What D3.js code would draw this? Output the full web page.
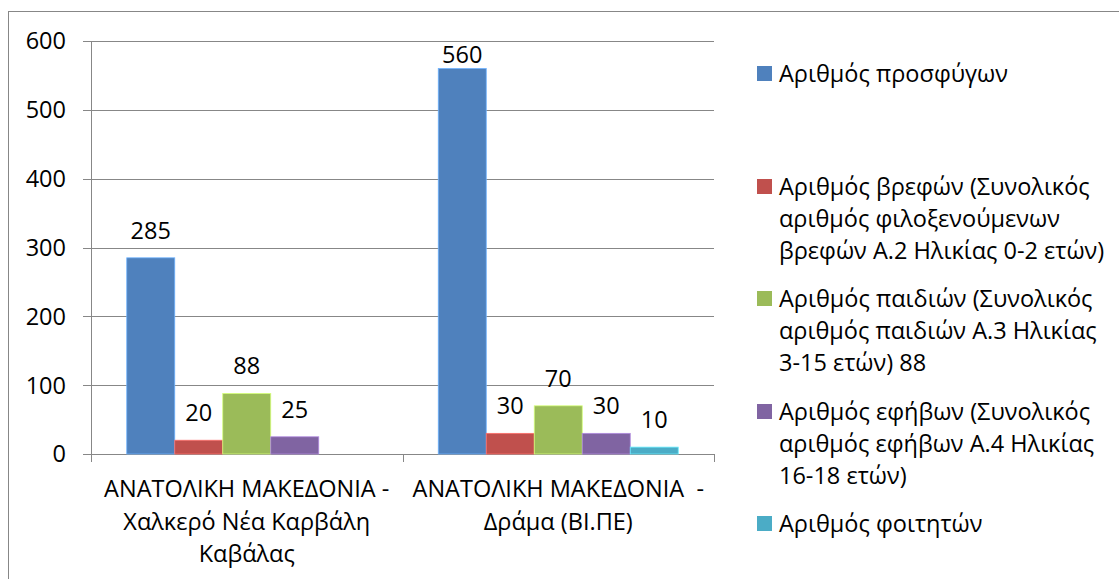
<!DOCTYPE html>
<html>
<head>
<meta charset="utf-8">
<script src="https://cdn.jsdelivr.net/npm/d3@7"></script>
<style>
  body { margin: 0; background: #fff; }
  svg text { font-family: "Open Sans", sans-serif; fill: #000; }
</style>
</head>
<body>
<div id="chart"></div>
<script>
// chart data
var categories = [
	["ΑΝΑΤΟΛΙΚΗ ΜΑΚΕΔΟΝΙΑ -", "Χαλκερό Νέα Καρβάλη", "Καβάλας"],
	["ΑΝΑΤΟΛΙΚΗ ΜΑΚΕΔΟΝΙΑ  -", "Δράμα (ΒΙ.ΠΕ)"]
];
var seriesNames = [
	["Αριθμός προσφύγων"],
	["Αριθμός βρεφών (Συνολικός", "αριθμός φιλοξενούμενων", "βρεφών Α.2 Ηλικίας 0-2 ετών)"],
	["Αριθμός παιδιών (Συνολικός", "αριθμός παιδιών Α.3 Ηλικίας", "3-15 ετών) 88"],
	["Αριθμός εφήβων (Συνολικός", "αριθμός εφήβων Α.4 Ηλικίας", "16-18 ετών)"],
	["Αριθμός φοιτητών"]
];
var seriesColors = ["#4F81BD", "#C0504D", "#9BBB59", "#8064A2", "#4BACC6"];
// values per category, one per series (null = no bar)
var valuesKavala = [285, 20, 88, 25, null];
var valuesDrama = [560, 30, 70, 30, 10];
var yTicks = [0, 100, 200, 300, 400, 500, 600];

var W = 1119, H = 579;
var plot = {left: 91, right: 714, top: 41, bottom: 454};
var gridColor = "#878787";
var fontSize = 23.5;

var svg = d3.select("#chart").append("svg")
	.attr("width", W)
	.attr("height", H);

// outer chart border (runs off the right and bottom edges)
svg.append("rect")
	.attr("x", 8.5).attr("y", 11.5)
	.attr("width", W).attr("height", H)
	.attr("fill", "none")
	.attr("stroke", gridColor);

var y = d3.scaleLinear().domain([0, 600]).range([plot.bottom, plot.top]);
var x0 = d3.scaleBand().domain(d3.range(categories.length)).range([plot.left, plot.right]);
var x1 = d3.scaleBand().domain(d3.range(seriesNames.length))
	.range([0, x0.bandwidth()])
	.paddingInner(0).paddingOuter(0.745);

// gridlines + y ticks
svg.append("g").selectAll("line")
	.data(yTicks)
	.enter().append("line")
	.attr("x1", plot.left - 8).attr("x2", plot.right)
	.attr("y1", function(d) { return Math.round(y(d)) + 0.5; })
	.attr("y2", function(d) { return Math.round(y(d)) + 0.5; })
	.attr("stroke", gridColor);

svg.append("g").selectAll("text")
	.data(yTicks)
	.enter().append("text")
	.attr("x", 66)
	.attr("y", function(d) { return y(d); })
	.attr("dy", "0.36em")
	.attr("text-anchor", "end")
	.style("font-size", fontSize + "px")
	.text(function(d) { return d; });

// y axis line
svg.append("line")
	.attr("x1", plot.left + 0.5).attr("x2", plot.left + 0.5)
	.attr("y1", plot.top).attr("y2", plot.bottom + 8)
	.attr("stroke", gridColor);

// x tick marks at category boundaries
var bounds = [plot.left, plot.left + x0.bandwidth(), plot.right];
svg.append("g").selectAll("line")
	.data(bounds)
	.enter().append("line")
	.attr("x1", function(d) { return Math.round(d) + 0.5; })
	.attr("x2", function(d) { return Math.round(d) + 0.5; })
	.attr("y1", plot.bottom).attr("y2", plot.bottom + 8)
	.attr("stroke", gridColor);

// bars
var allValues = [valuesKavala, valuesDrama];
var groups = svg.append("g").selectAll("g")
	.data(allValues)
	.enter().append("g")
	.attr("transform", function(d, i) { return "translate(" + x0(i) + ",0)"; });

var barData = function(vals) {
	return vals.map(function(v, s) { return {v: v, s: s}; })
		.filter(function(d) { return d.v !== null; });
};

groups.selectAll("rect")
	.data(barData)
	.enter().append("rect")
	.attr("x", function(d) { return x1(d.s); })
	.attr("y", function(d) { return y(d.v); })
	.attr("width", x1.bandwidth())
	.attr("height", function(d) { return y(0) - y(d.v); })
	.attr("fill", function(d) { return seriesColors[d.s]; })
	.attr("stroke", function(d) { return d3.color(seriesColors[d.s]).brighter(0.9); })
	.attr("stroke-width", 0.8);

// value labels; kept inside the plot like excel does
groups.selectAll("text")
	.data(barData)
	.enter().append("text")
	.attr("x", function(d) { return x1(d.s) + x1.bandwidth() / 2; })
	.attr("y", function(d) { return Math.max(y(d.v) - 19, plot.top + 22); })
	.attr("text-anchor", "middle")
	.style("font-size", fontSize + "px")
	.text(function(d) { return d.v; });

// category labels
var catLabels = svg.append("g").selectAll("text")
	.data(categories)
	.enter().append("text")
	.attr("text-anchor", "middle")
	.style("font-size", fontSize + "px")
	.style("white-space", "pre");

catLabels.selectAll("tspan")
	.data(function(d, i) { return d.map(function(t) { return {t: t, i: i}; }); })
	.enter().append("tspan")
	.attr("x", function(d) { return x0(d.i) + x0.bandwidth() / 2; })
	.attr("y", function(d, j) { return 497 + j * 32.5; })
	.text(function(d) { return d.t; });

// legend
var legendTop = [82, 195, 307, 420, 532];
var legend = svg.append("g").selectAll("g")
	.data(seriesNames)
	.enter().append("g");

legend.append("rect")
	.attr("x", 757)
	.attr("y", function(d, i) { return legendTop[i] - 16; })
	.attr("width", 15).attr("height", 15)
	.attr("fill", function(d, i) { return seriesColors[i]; });

legend.append("text")
	.style("font-size", fontSize + "px")
	.selectAll("tspan")
	.data(function(d, i) { return d.map(function(t) { return {t: t, i: i}; }); })
	.enter().append("tspan")
	.attr("x", 779)
	.attr("y", function(d, j) { return legendTop[d.i] + j * 32; })
	.text(function(d) { return d.t; });
</script>
</body>
</html>
